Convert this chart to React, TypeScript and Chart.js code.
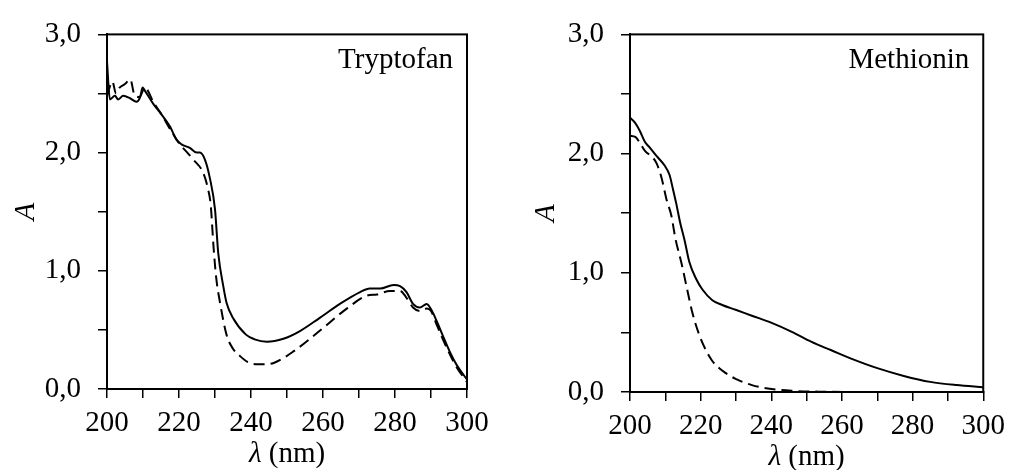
import React, { useEffect, useRef } from "react";
import { Chart, registerables } from "chart.js";

Chart.register(...registerables);

const FONT = "'Liberation Serif', 'Times New Roman', serif";

// Tryptofan panel
const trpSolidX = [200, 200.8, 202.2, 203.1, 204.5, 206.4, 208.2, 209.2, 209.9, 210.6, 212.9, 214.7, 217.5, 219.3, 220.7, 223, 224.9, 225.8, 227.2, 228.6, 230, 230.9, 232.3, 233.2, 235, 238.6, 241, 244.4, 249, 253.6, 259, 264.7, 270.3, 273, 275.9, 279.6, 281.4, 283.2, 285, 286.9, 288.8, 290.6, 291.5, 293.3, 295.3, 297.2, 300];
const trpSolidY = [2.77, 2.45, 2.48, 2.45, 2.48, 2.46, 2.43, 2.47, 2.55, 2.52, 2.41, 2.34, 2.22, 2.11, 2.07, 2.04, 2.0, 2.0, 1.94, 1.78, 1.52, 1.15, 0.87, 0.73, 0.6, 0.46, 0.42, 0.4, 0.425, 0.49, 0.6, 0.72, 0.82, 0.85, 0.85, 0.88, 0.87, 0.82, 0.72, 0.69, 0.72, 0.64, 0.58, 0.45, 0.31, 0.2, 0.08];
const trpDashX = [200, 201.5, 202.5, 203.5, 205, 206.5, 207.5, 209, 210.5, 213, 215, 217.5, 220, 222.6, 224, 226.7, 228, 228.8, 229.6, 230.3, 231.4, 233.2, 235, 236.9, 239, 241.7, 244, 246.3, 251.9, 259, 266.6, 272.2, 275, 278.6, 281.4, 283, 285, 286.9, 288.8, 290, 291.5, 293.3, 295.3, 297.2, 300];
const trpDashY = [2.48, 2.6, 2.5, 2.55, 2.58, 2.62, 2.5, 2.47, 2.55, 2.42, 2.33, 2.2, 2.08, 1.99, 1.94, 1.83, 1.7, 1.56, 1.2, 0.95, 0.73, 0.46, 0.34, 0.28, 0.23, 0.21, 0.21, 0.22, 0.32, 0.49, 0.68, 0.79, 0.8, 0.83, 0.83, 0.78, 0.69, 0.66, 0.68, 0.66, 0.55, 0.42, 0.29, 0.18, 0.06];

// Methionin panel
const metSolidX = [200, 201.4, 202.8, 204.2, 205.6, 207.5, 209.8, 211.2, 212.1, 213.1, 214.2, 215.4, 216.8, 218.7, 220.5, 223.3, 226.1, 229.9, 234.5, 240.1, 245.8, 251.4, 257, 262.6, 270, 277.5, 285, 292.4, 300];
const metSolidY = [2.3, 2.26, 2.19, 2.1, 2.05, 1.98, 1.9, 1.82, 1.71, 1.58, 1.42, 1.28, 1.09, 0.95, 0.86, 0.77, 0.73, 0.69, 0.64, 0.58, 0.505, 0.42, 0.35, 0.28, 0.2, 0.135, 0.085, 0.058, 0.04];
const metDashX = [200, 201.5, 202.8, 204.3, 206, 207.5, 208.9, 210.3, 211.7, 212.9, 214.5, 215.9, 217.7, 219.6, 221.5, 223.3, 226.1, 229.9, 234.5, 240.1, 245.8, 253.2, 270, 300];
const metDashY = [2.15, 2.14, 2.09, 2.02, 1.98, 1.92, 1.8, 1.62, 1.48, 1.28, 1.09, 0.9, 0.66, 0.48, 0.35, 0.26, 0.18, 0.11, 0.058, 0.025, 0.01, 0.003, 0.0, 0.0];

const yMin = 0, yMax = 3, yStep = 0.5;
const xMin = 200, xMax = 300, xStep = 10;

type PanelProps = {
  left: number; width: number; height: number;
  area: { left: number; right: number; top: number; bottom: number };
  title: string;
  solidX: number[]; solidY: number[]; dashX: number[]; dashY: number[];
  yTitleOffset: number;
};

function Panel(p: PanelProps) {
  const ref = useRef<HTMLCanvasElement>(null);
  useEffect(() => {
    if (!ref.current) return;
    const frame = {
      id: "frame",
      afterDraw(chart: any) {
        const { ctx, chartArea: a } = chart;
        ctx.save();
        ctx.strokeStyle = "#000";
        ctx.lineWidth = 2;
        ctx.strokeRect(a.left, a.top, a.right - a.left, a.bottom - a.top);
        ctx.fillStyle = "#000";
        ctx.font = `29px ${FONT}`;
        ctx.textAlign = "right";
        ctx.textBaseline = "alphabetic";
        ctx.fillText(p.title, a.right - 14, a.top + 34);
        // y title
        ctx.save();
        ctx.translate(a.left - p.yTitleOffset, (a.top + a.bottom) / 2);
        ctx.rotate(-Math.PI / 2);
        ctx.font = `italic 29px ${FONT}`;
        ctx.textAlign = "center";
        ctx.textBaseline = "middle";
        ctx.fillText("A", 0, 0);
        ctx.restore();
        // x title
        const lam = "λ";
        const rest = " (nm)";
        ctx.font = `italic 29px ${FONT}`;
        const w1 = ctx.measureText(lam).width;
        ctx.font = `29px ${FONT}`;
        const w2 = ctx.measureText(rest).width;
        const cx = (a.left + a.right) / 2;
        const x0 = cx - (w1 + w2) / 2;
        const by = a.bottom + 73;
        ctx.textAlign = "left";
        ctx.textBaseline = "alphabetic";
        ctx.font = `italic 29px ${FONT}`;
        ctx.fillText(lam, x0, by);
        ctx.font = `29px ${FONT}`;
        ctx.fillText(rest, x0 + w1, by);
        ctx.restore();
      },
    };
    const chart = new Chart(ref.current, {
      type: "line",
      data: {
        datasets: [
          {
            data: p.solidX.map((x, i) => ({ x, y: p.solidY[i] })),
            borderColor: "#000",
            borderWidth: 2,
            pointRadius: 0,
            fill: false,
            cubicInterpolationMode: "monotone",
          },
          {
            data: p.dashX.map((x, i) => ({ x, y: p.dashY[i] })),
            borderColor: "#000",
            borderWidth: 2,
            borderDash: [11, 6],
            pointRadius: 0,
            fill: false,
            cubicInterpolationMode: "monotone",
          },
        ],
      },
      options: {
        animation: false,
        responsive: false,
        maintainAspectRatio: false,
        devicePixelRatio: 1,
        events: [],
        layout: {
          padding: { left: 0, top: p.area.top, right: p.width - p.area.right, bottom: 0 },
        },
        plugins: { legend: { display: false }, tooltip: { enabled: false } },
        scales: {
          x: {
            type: "linear",
            min: xMin,
            max: xMax,
            afterFit: (s: any) => { s.height = p.height - p.area.bottom; },
            ticks: {
              stepSize: xStep,
              autoSkip: false,
              maxRotation: 0,
              padding: 8,
              color: "#000",
              font: { family: FONT, size: 29 },
              callback: (v: any) => (Number(v) % 20 === 0 ? String(v) : ""),
            },
            grid: { drawOnChartArea: false, drawTicks: true, tickLength: 9, color: "#000", lineWidth: 1.5 },
            border: { display: true, color: "#000", width: 2 },
          },
          y: {
            type: "linear",
            min: yMin,
            max: yMax,
            afterFit: (s: any) => { s.width = p.area.left; },
            ticks: {
              stepSize: yStep,
              autoSkip: false,
              padding: 17,
              color: "#000",
              font: { family: FONT, size: 29 },
              callback: (v: any) => {
                const n = Number(v);
                return Math.abs(n - Math.round(n)) < 1e-6 ? n.toFixed(1).replace(".", ",") : "";
              },
            },
            grid: { drawOnChartArea: false, drawTicks: true, tickLength: 9, color: "#000", lineWidth: 1.5 },
            border: { display: true, color: "#000", width: 2 },
          },
        },
      },
      plugins: [frame],
    } as any);
    return () => chart.destroy();
  }, []);
  return (
    <canvas
      ref={ref}
      width={p.width}
      height={p.height}
      style={{ position: "absolute", left: p.left, top: 0, width: p.width, height: p.height }}
    />
  );
}

export default function App() {
  return (
    <div style={{ position: "fixed", left: 0, top: 0, width: 1013, height: 470, background: "#fff" }}>
      <Panel
        left={0} width={500} height={470}
        area={{ left: 107, right: 467, top: 25, bottom: 389 }}
        title="Tryptofan"
        solidX={trpSolidX} solidY={trpSolidY} dashX={trpDashX} dashY={trpDashY}
        yTitleOffset={81}
      />
      <Panel
        left={500} width={513} height={470}
        area={{ left: 130, right: 487, top: 28, bottom: 392 }}
        title="Methionin"
        solidX={metSolidX} solidY={metSolidY} dashX={metDashX} dashY={metDashY}
        yTitleOffset={84}
      />
    </div>
  );
}
